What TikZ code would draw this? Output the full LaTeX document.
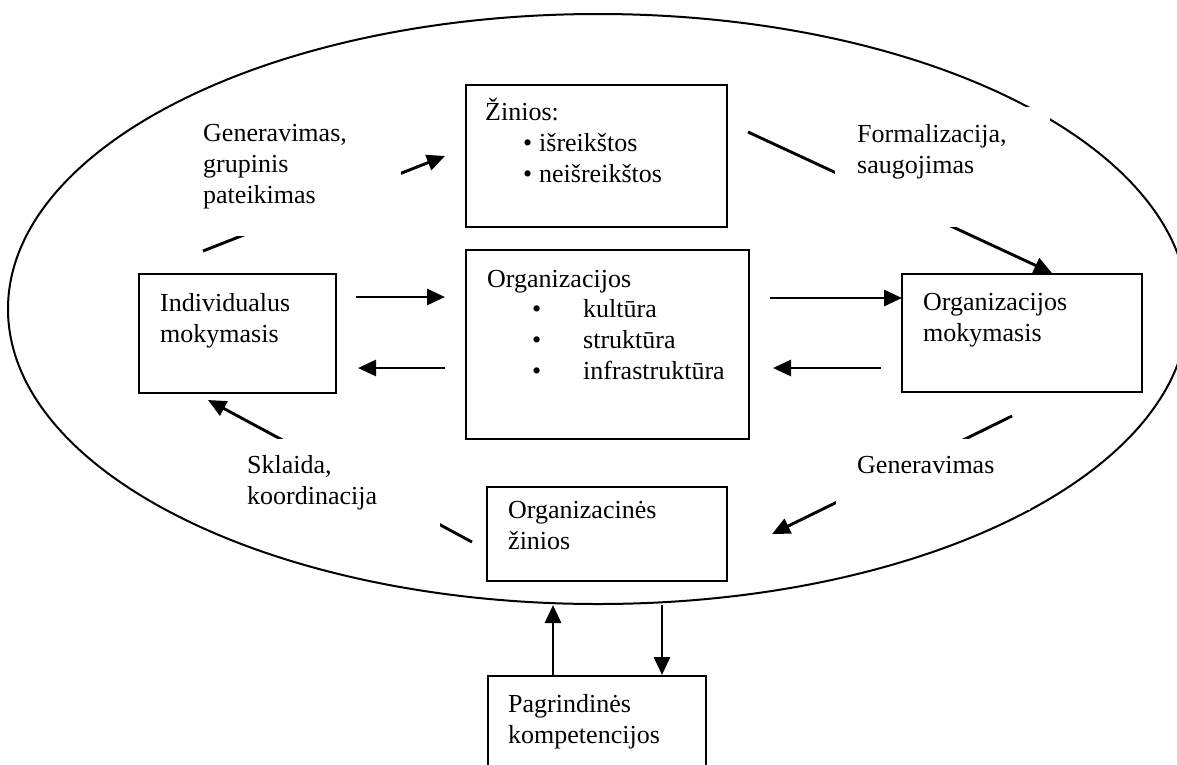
\documentclass[tikz,border=0pt]{standalone}
\usepackage{fontspec}
\setmainfont{Liberation Serif}
\usetikzlibrary{arrows.meta,shapes.geometric,fit}

% invisible rule that fixes the top of a text block 24pt above its first baseline
\newcommand{\firstline}{\rule{0pt}{24pt}}
\newcommand{\shortbullet}{\makebox[16pt][l]{•}}
\newcommand{\tabbullet}{\makebox[51pt][l]{•}}

\begin{document}
\begin{tikzpicture}[x=1pt,y=-1pt,
  box/.style={draw, line width=2pt, inner sep=0pt},
  txt/.style={anchor=north west, inner sep=0pt, align=left,
              font=\fontsize{26}{31}\selectfont},
  flow/.style={line width=2.9pt, -{Triangle[length=18pt,width=16pt]}},
  gap/.style={fill=white}
]
\path[use as bounding box, clip] (0,0) rectangle (1177,764);
\fill[white] (0,0) rectangle (1177,764);

% outer boundary of the organisation
\node[draw, ellipse, line width=2pt, minimum width=1180pt, minimum height=590pt,
      inner sep=0pt] (org-ell) at (598,309) {};

% free ends of the connectors
\coordinate (d1-s) at (203,251);  \coordinate (d1-e) at (445,156);
\coordinate (d2-s) at (748,132);  \coordinate (d2-e) at (1052,273);
\coordinate (d3-s) at (1012,416); \coordinate (d3-e) at (772,534);
\coordinate (d4-s) at (472,542);  \coordinate (d4-e) at (208,400);
\coordinate (h1-s) at (356,297);  \coordinate (h1-e) at (445,297);
\coordinate (h2-s) at (445,368);  \coordinate (h2-e) at (358,368);
\coordinate (h3-s) at (770,298);  \coordinate (h3-e) at (902,298);
\coordinate (h4-s) at (881,368);  \coordinate (h4-e) at (773,368);

% boxes
\node[box, fit={(466,85)(727,227)}]   (zin) {};
\node[box, fit={(466,250)(749,439)}]  (org) {};
\node[box, fit={(139,274)(336,393)}]  (ind) {};
\node[box, fit={(902,274)(1142,392)}] (om)  {};
\node[box, fit={(487,487)(727,581)}]  (oz)  {};
\node[box, fit={(488,676)(706,800)}]  (pk)  {};

% connectors
\draw[flow] (d1-s) -- (d1-e);
\draw[flow] (d2-s) -- (d2-e);
\draw[flow] (d3-s) -- (d3-e);
\draw[flow] (d4-s) -- (d4-e);
\draw[flow] (h1-s) -- (h1-e);
\draw[flow] (h2-s) -- (h2-e);
\draw[flow] (h3-s) -- (h3-e);
\draw[flow] (h4-s) -- (h4-e);
\draw[flow] (pk.north -| 553,0) -- (org-ell.south -| 553,0);
\draw[flow] (org-ell.south -| 662,0) -- (pk.north -| 662,0);

% white label areas that interrupt the connectors and the boundary
\fill[gap] (182,106) rectangle (401,236);
\fill[gap] (835,107) rectangle (1050,227);
\fill[gap] (836,439) rectangle (1030,510);
\fill[gap] (226,439) rectangle (440,530);

% labels of the flows
\node[txt] (l-gen1) at (203,141-24) {\firstline Generavimas,\\grupinis\\pateikimas};
\node[txt] (l-form) at (857,142-24) {\firstline Formalizacija,\\saugojimas};
\node[txt] (l-gen2) at (857,473-24) {\firstline Generavimas};
\node[txt] (l-skl)  at (247,473-24) {\firstline Sklaida,\\koordinacija};

% box texts
\node[txt] (zin-t) at (485,120-24) {\firstline Žinios:};
\node[txt] (zin-b) at (523,151-24) {\firstline\shortbullet išreikštos\\\shortbullet neišreikštos};
\node[txt] (org-t) at (487,287-24) {\firstline Organizacijos};
\node[txt] (org-b) at (532,317-24) {\firstline\tabbullet kultūra\\\tabbullet struktūra\\\tabbullet infrastruktūra};
\node[txt] (ind-t) at (160,311-24) {\firstline Individualus\\mokymasis};
\node[txt] (om-t)  at (923,310-24) {\firstline Organizacijos\\mokymasis};
\node[txt] (oz-t)  at (508,518-24) {\firstline Organizacinės\\žinios};
\node[txt] (pk-t)  at (508,712-24) {\firstline Pagrindinės\\kompetencijos};
\end{tikzpicture}
\end{document}
